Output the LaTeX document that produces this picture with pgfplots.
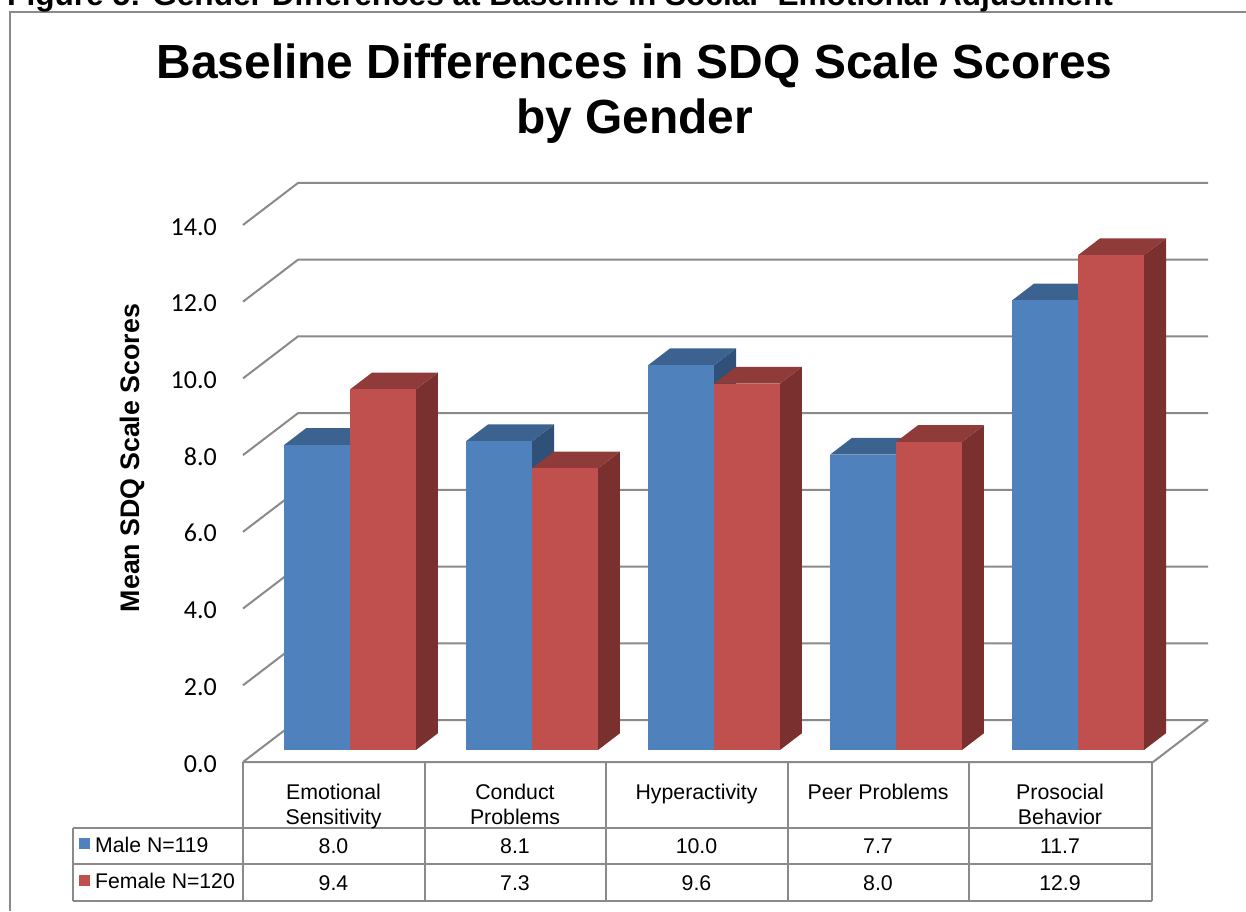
\documentclass[border=0pt]{standalone}
\usepackage{pgfplots}
\usepackage{fontspec}
\setmainfont{Liberation Sans}
\newfontfamily\tickfont{Carlito}
\pgfplotsset{compat=1.18}
\definecolor{bluef}{HTML}{4F81BD}
\definecolor{bluet}{HTML}{3C6290}
\definecolor{blues}{HTML}{2F5077}
\definecolor{redf}{HTML}{C0504D}
\definecolor{redt}{HTML}{8F3B39}
\definecolor{reds}{HTML}{7A302E}
\definecolor{gridc}{HTML}{8A8A8A}
% #1 left, #2 right, #3 value, #4 front, #5 top, #6 side
\newcommand{\threedbar}[6]{%
  \addplot3[fill=#6,draw=none,mark=none] coordinates {(#2,0.286,0)(#2,0.686,0)(#2,0.686,#3)(#2,0.286,#3)};
  \addplot3[fill=#5,draw=none,mark=none] coordinates {(#1,0.286,#3)(#2,0.286,#3)(#2,0.686,#3)(#1,0.686,#3)};
  \addplot3[fill=#4,draw=none,mark=none] coordinates {(#1,0.286,0)(#2,0.286,0)(#2,0.286,#3)(#1,0.286,#3)};
}
\newcommand{\gridat}[1]{%
  \addplot3[gridc,line width=2pt,mark=none,line join=round] coordinates {(0,0,#1)(0,1,#1)(5,1,#1)};
}
\begin{document}
\begin{tikzpicture}
\useasboundingbox (0,0) rectangle (1246pt,-911pt);
\clip (0,0) rectangle (1246pt,-911pt);
\begin{axis}[
  anchor=origin, at={(243pt,-762pt)},
  x={(182pt,0pt)}, y={(55pt,42pt)}, z={(0pt,38.36pt)},
  xmin=0,xmax=5,ymin=0,ymax=1,zmin=0,zmax=14,
  hide axis, clip=false]
\gridat{0}\gridat{2}\gridat{4}\gridat{6}\gridat{8}\gridat{10}\gridat{12}\gridat{14}
\addplot3[gridc,line width=2pt,mark=none] coordinates {(5,1,0)(5,0,0)(0,0,0)};
\threedbar{0.139}{0.5016}{7.95}{bluef}{bluet}{blues}
\threedbar{0.5016}{0.864}{9.4}{redf}{redt}{reds}
\threedbar{1.139}{1.5016}{8.05}{bluef}{bluet}{blues}
\threedbar{1.5016}{1.864}{7.34}{redf}{redt}{reds}
\threedbar{2.139}{2.5016}{10.03}{bluef}{bluet}{blues}
\threedbar{2.5016}{2.864}{9.55}{redf}{redt}{reds}
\threedbar{3.139}{3.5016}{7.7}{bluef}{bluet}{blues}
\threedbar{3.5016}{3.864}{8.03}{redf}{redt}{reds}
\threedbar{4.139}{4.5016}{11.72}{bluef}{bluet}{blues}
\threedbar{4.5016}{4.864}{12.9}{redf}{redt}{reds}
\end{axis}
\begin{scope}[x=1pt,y=-1pt]
% frame
\draw[gridc,line width=2pt] (10,911) -- (10,12) -- (1246,12);
% top caption
\node[anchor=base west,inner sep=0pt,font=\bfseries\fontsize{31.6}{36}\selectfont] at (7,5) {Figure 5: Gender Differences at Baseline in Social- Emotional Adjustment};
% title
\node[anchor=base,inner sep=0pt,font=\bfseries\fontsize{47.9}{55}\selectfont] at (634.5,78) {Baseline Differences in SDQ Scale Scores};
\node[anchor=base,inner sep=0pt,font=\bfseries\fontsize{47.9}{55}\selectfont] at (634.5,133) {by Gender};
% y label
\node[rotate=90,inner sep=0pt,font=\bfseries\fontsize{26.8}{30}\selectfont] at (132,458) {Mean SDQ Scale Scores};
% z tick labels
\foreach \t/\y in {14.0/235,12.0/311.7,10.0/388.4,8.0/465.1,6.0/541.8,4.0/618.5,2.0/695.2,0.0/772}
  \node[anchor=base east,inner sep=0pt,font=\tickfont\fontsize{26}{30}\selectfont] at (217,\y) {\t};
% table lines
\draw[gridc,line width=1.6pt] (243,762) -- (243,828) (425,762) -- (425,828) (606,762) -- (606,828) (788,762) -- (788,828) (969,762) -- (969,828) (1152,762) -- (1152,828);
\draw[gridc,line width=2.2pt] (73,828) -- (1152,828) (73,864) -- (1152,864) (73,901) -- (1152,901);
\draw[gridc,line width=2.2pt] (73,828) -- (73,901) (243,828) -- (243,901) (425,828) -- (425,901) (606,828) -- (606,901) (788,828) -- (788,901) (969,828) -- (969,901) (1152,828) -- (1152,901);
% category labels
\foreach \x/\a/\b in {333.5/Emotional/Sensitivity,515/Conduct/Problems,696.5/Hyperactivity/,878/Peer Problems/,1060/Prosocial/Behavior}{
  \node[anchor=base,inner sep=0pt,font=\fontsize{21.3}{25}\selectfont] at (\x,799) {\a};
  \node[anchor=base,inner sep=0pt,font=\fontsize{21.3}{25}\selectfont] at (\x,824) {\b};
}
% values
\foreach \x/\m/\f in {333.5/8.0/9.4,515/8.1/7.3,696.5/10.0/9.6,878/7.7/8.0,1060/11.7/12.9}{
  \node[anchor=base,inner sep=0pt,font=\fontsize{21.3}{25}\selectfont] at (\x,853) {\m};
  \node[anchor=base,inner sep=0pt,font=\fontsize{21.3}{25}\selectfont] at (\x,890) {\f};
}
% legend
\fill[bluef] (79,838) rectangle (90,849);
\fill[redf] (79,875) rectangle (90,886);
\node[anchor=base west,inner sep=0pt,font=\fontsize{21.2}{25}\selectfont] at (95,852) {Male N=119};
\node[anchor=base west,inner sep=0pt,font=\fontsize{21.2}{25}\selectfont] at (95,888) {Female N=120};
\end{scope}
\end{tikzpicture}
\end{document}
